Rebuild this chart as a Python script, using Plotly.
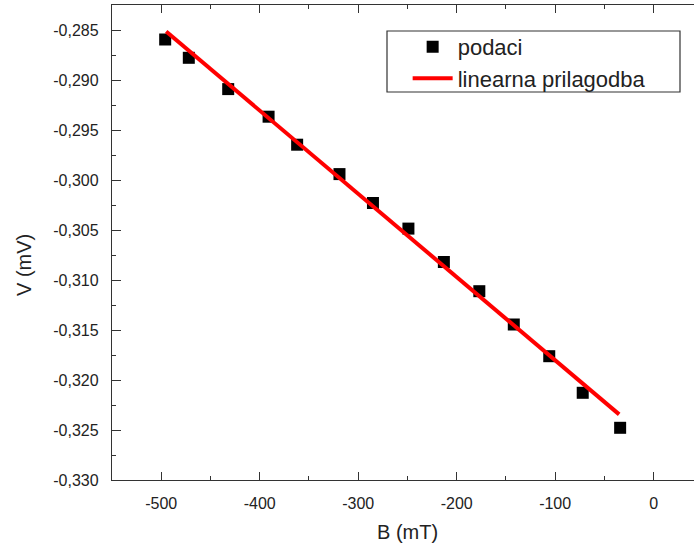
import plotly.graph_objects as go

# data
B_data = [-496, -472, -432, -391, -362, -319, -285, -249, -213, -177, -142, -106, -72, -34]
V_data = [-0.28595, -0.28778, -0.29091, -0.29367, -0.29647, -0.29941, -0.30230,
          -0.30486, -0.30820, -0.31112, -0.31445, -0.31762, -0.32128, -0.32478]
fit_B = [-495, -35]
fit_V = [-0.28515, -0.32344]

x_tickvals = [-500, -400, -300, -200, -100, 0]
x_ticktext = ["-500", "-400", "-300", "-200", "-100", "0"]
y_tickvals = [-0.285, -0.290, -0.295, -0.300, -0.305, -0.310, -0.315, -0.320, -0.325, -0.330]
y_ticktext = ["-0,285", "-0,290", "-0,295", "-0,300", "-0,305", "-0,310",
              "-0,315", "-0,320", "-0,325", "-0,330"]

FONT = "Liberation Sans, Arial, sans-serif"
TXT = "#222222"
AX = "#333333"

fig = go.Figure()
fig.add_trace(go.Scatter(x=B_data, y=V_data, mode="markers", name="podaci",
                         marker=dict(symbol="square", size=12, color="black",
                                     line=dict(width=0))))
fig.add_trace(go.Scatter(x=fit_B, y=fit_V, mode="lines", name="linearna prilagodba",
                         line=dict(color="#ff0000", width=4)))

fig.update_layout(
    width=694, height=548,
    margin=dict(l=112, r=0, t=5, b=68),
    paper_bgcolor="white", plot_bgcolor="white",
    showlegend=True,
    legend=dict(x=0.508, y=0.956, xanchor="left", yanchor="top",
                bgcolor="rgba(0,0,0,0)", borderwidth=0,
                font=dict(family=FONT, size=22, color=TXT),
                tracegroupgap=0, itemwidth=40),
    shapes=[dict(type="rect", xref="paper", yref="paper",
                 x0=(387 - 112) / 582, x1=(680 - 112) / 582,
                 y0=(480 - 92) / 475, y1=(480 - 31) / 475,
                 line=dict(color=AX, width=1.2), fillcolor="rgba(0,0,0,0)", layer="below")],
    annotations=[
        dict(text="B (mT)", xref="paper", yref="paper", x=(407 - 112) / 582, y=(480 - 532) / 475,
             xanchor="center", yanchor="middle", showarrow=False,
             font=dict(family=FONT, size=20, color=TXT)),
        dict(text="V (mV)", xref="paper", yref="paper", x=(24 - 112) / 582, y=(480 - 265) / 475,
             xanchor="center", yanchor="middle", showarrow=False, textangle=-90,
             font=dict(family=FONT, size=20, color=TXT)),
    ],
)

fig.update_xaxes(range=[-550, 41], showgrid=False, zeroline=False,
                 showline=True, linecolor=AX, linewidth=1.3, mirror="ticks",
                 ticks="inside", ticklen=8, tickwidth=1.3, tickcolor=AX,
                 tickvals=x_tickvals, ticktext=x_ticktext, ticklabelstandoff=9,
                 tickfont=dict(family=FONT, size=16, color=TXT),
                 minor=dict(ticks="inside", ticklen=4, dtick=50, tick0=0, tickcolor=AX, tickwidth=1.3))
fig.update_yaxes(range=[-0.330, -0.2825], showgrid=False, zeroline=False,
                 showline=True, linecolor=AX, linewidth=1.3, mirror=False,
                 ticks="inside", ticklen=9, tickwidth=1.3, tickcolor=AX,
                 tickvals=y_tickvals, ticktext=y_ticktext, ticklabelstandoff=9,
                 tickfont=dict(family=FONT, size=16, color=TXT),
                 minor=dict(ticks="inside", ticklen=4, dtick=0.0025, tick0=-0.33, tickcolor=AX, tickwidth=1.3))

fig.write_html("out.html", config={"displayModeBar": False},
               post_script="document.body.style.margin='0';document.body.style.padding='0';"
                           "document.body.style.overflow='hidden';")
